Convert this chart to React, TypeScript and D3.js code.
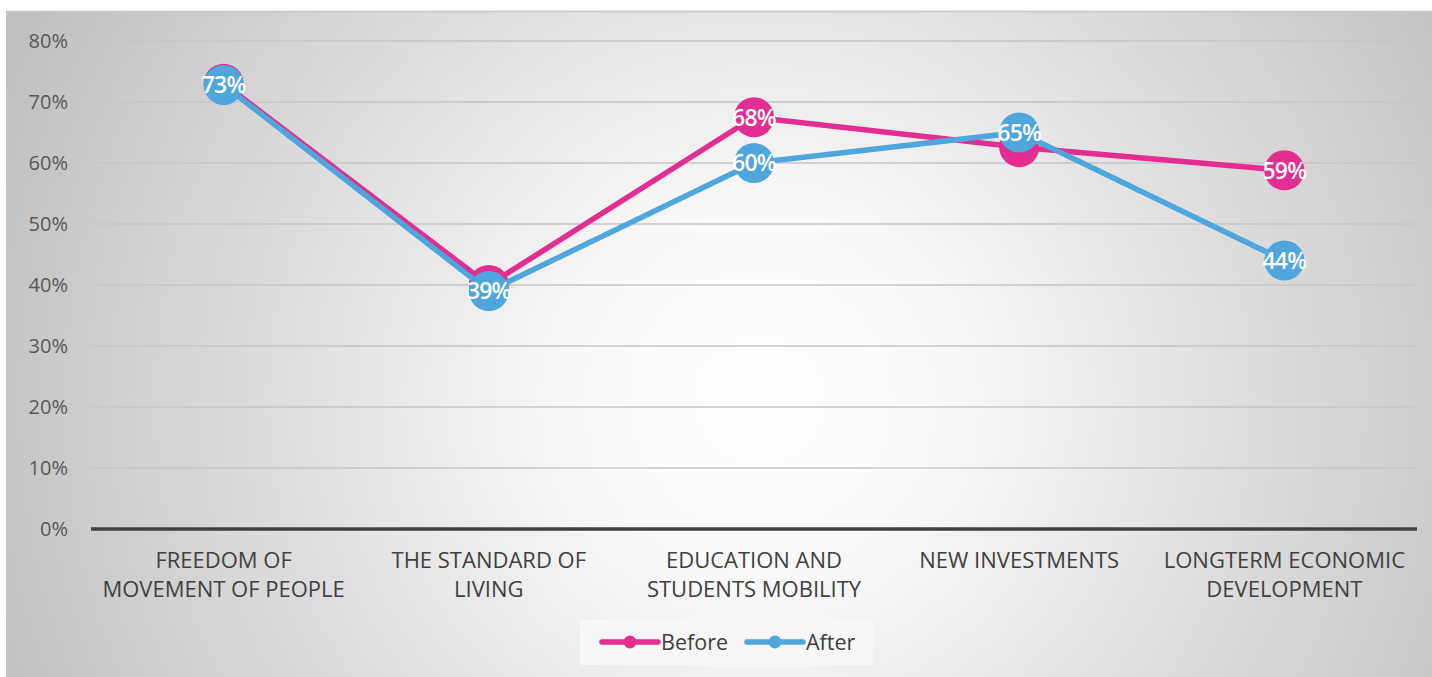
import React from "react";
import * as d3 from "d3";

const categories = [
  ["FREEDOM OF", "MOVEMENT OF PEOPLE"],
  ["THE STANDARD OF", "LIVING"],
  ["EDUCATION AND", "STUDENTS MOBILITY"],
  ["NEW INVESTMENTS"],
  ["LONGTERM ECONOMIC", "DEVELOPMENT"],
];
const beforeValues = [0.73, 0.40, 0.675, 0.626, 0.588];
const afterValues = [0.728, 0.39, 0.60, 0.65, 0.44];
const beforeLabels = ["", "", "68%", "", "59%"];
const afterLabels = ["73%", "39%", "60%", "65%", "44%"];
const yTicks = [0, 0.1, 0.2, 0.3, 0.4, 0.5, 0.6, 0.7, 0.8];
const seriesNames = ["Before", "After"];

const PINK = "#E32D91";
const BLUE = "#4EA6DC";
const FONT = "'Open Sans', 'Noto Sans', sans-serif";

export default function App() {
  const W = 1432, H = 677;
  const x = d3.scaleBand<number>().domain(d3.range(5)).range([91, 1417]);
  const y = d3.scaleLinear().domain([0, 0.8]).range([529, 41]);
  const cx = (i: number) => (x(i) as number) + x.bandwidth() / 2;
  const line = d3.line<number>().x((_, i) => cx(i)).y((v) => y(v));
  const series = [
    { name: seriesNames[0], values: beforeValues, labels: beforeLabels, color: PINK },
    { name: seriesNames[1], values: afterValues, labels: afterLabels, color: BLUE },
  ];
  return (
    <svg width={W} height={H} style={{ position: "absolute", left: 0, top: 0 }}>
      <defs>
        <radialGradient id="bg" cx="760" cy="400" r="820" gradientUnits="userSpaceOnUse">
          <stop offset="0" stopColor="#ffffff" />
          <stop offset="0.2" stopColor="#fafafa" />
          <stop offset="1" stopColor="#c0c0c0" />
        </radialGradient>
      </defs>
      <rect x={0} y={0} width={W} height={H} fill="#ffffff" />
      <rect x={6} y={11} width={W - 6} height={H - 11} fill="url(#bg)" />
      <line x1={6} x2={W} y1={11.5} y2={11.5} stroke="#c4c4c4" strokeWidth={1.5} />
      {yTicks.map((t) => (
        <g key={t}>
          {t > 0 && (
            <line x1={91} x2={1417} y1={y(t)} y2={y(t)} stroke="#c6c6c6" strokeWidth={1.5} />
          )}
          <text x={68} y={y(t)} dy="0.35em" textAnchor="end" fontFamily={FONT} fontSize={20} fill="#595959">
            {d3.format(".0%")(t)}
          </text>
        </g>
      ))}
      <line x1={91} x2={1417} y1={y(0)} y2={y(0)} stroke="#404040" strokeWidth={3.5} />
      {categories.map((lines, i) => (
        <text key={i} x={cx(i)} y={568} textAnchor="middle" fontFamily={FONT} fontSize={22} fill="#404040">
          {lines.map((l, j) => (
            <tspan key={j} x={cx(i)} dy={j === 0 ? 0 : 29}>{l}</tspan>
          ))}
        </text>
      ))}
      {series.map((s) => (
        <g key={s.name}>
          <path d={line(s.values) || ""} fill="none" stroke={s.color} strokeWidth={5.5} strokeLinejoin="round" />
          {s.values.map((v, i) => (
            <circle key={i} cx={cx(i)} cy={y(v)} r={20} fill={s.color} />
          ))}
        </g>
      ))}
      {series.map((s) =>
        s.values.map((v, i) =>
          s.labels[i] ? (
            <text key={s.name + i} x={cx(i)} y={y(v)} dy="0.36em" textAnchor="middle" fontFamily={FONT}
              fontSize={23} fontWeight={600} fill="#ffffff" letterSpacing={-0.8}>
              {s.labels[i]}
            </text>
          ) : null
        )
      )}
      <rect x={580} y={620} width={293} height={45} fill="#f6f6f6" />
      {series.map((s, k) => {
        const x0 = k === 0 ? 602 : 747;
        return (
          <g key={s.name}>
            <line x1={x0} x2={x0 + 56} y1={642} y2={642} stroke={s.color} strokeWidth={5.5} strokeLinecap="round" />
            <circle cx={x0 + 28} cy={642} r={6.5} fill={s.color} />
            <text x={x0 + 59} y={642} dy="0.35em" fontFamily={FONT} fontSize={21.5} fill="#404040">{s.name}</text>
          </g>
        );
      })}
    </svg>
  );
}
